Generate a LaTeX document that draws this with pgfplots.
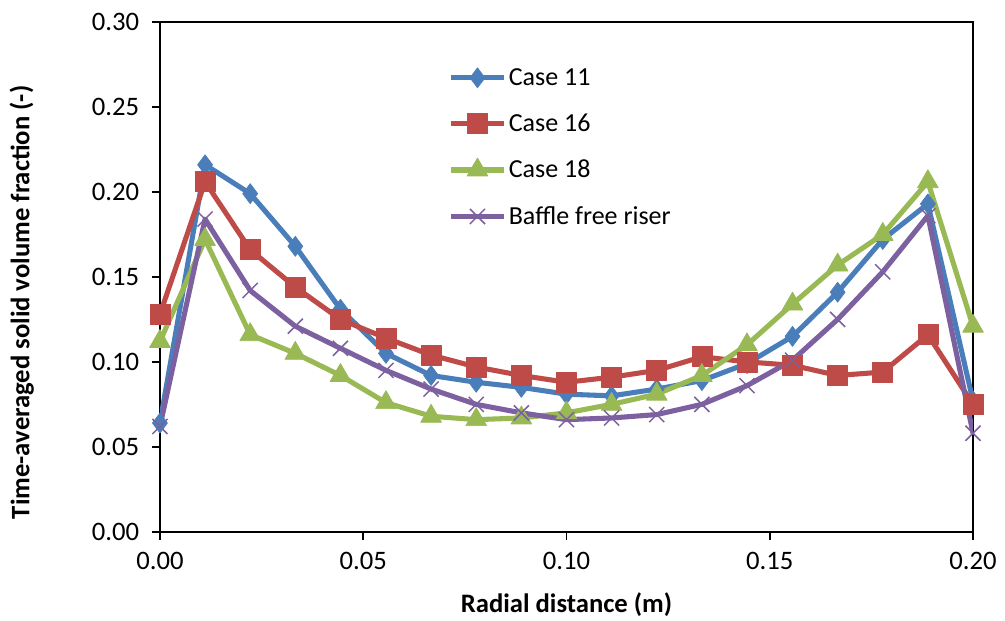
\documentclass[border=0pt]{standalone}
\usepackage{pgfplots}
\pgfplotsset{compat=1.18}
\usepackage{fontspec}
\setmainfont{Carlito}

\definecolor{cblue}{HTML}{4A7EBB}
\definecolor{cred}{HTML}{BE4B48}
\definecolor{cgreen}{HTML}{98B954}
\definecolor{cpurple}{HTML}{7D60A0}

% radial profiles of the time-averaged solid volume fraction
\pgfplotstableread{
r       c11    c16    c18    bfr
0.0000  0.064  0.128  0.112  0.062
0.0111  0.216  0.206  0.172  0.184
0.0222  0.199  0.166  0.116  0.142
0.0333  0.168  0.144  0.105  0.121
0.0444  0.131  0.125  0.092  0.108
0.0556  0.105  0.114  0.076  0.095
0.0667  0.092  0.104  0.068  0.084
0.0778  0.088  0.097  0.066  0.075
0.0889  0.085  0.092  0.067  0.070
0.1000  0.081  0.088  0.070  0.066
0.1111  0.080  0.091  0.075  0.067
0.1222  0.084  0.095  0.081  0.069
0.1333  0.089  0.103  0.092  0.075
0.1444  0.099  0.100  0.110  0.086
0.1556  0.115  0.098  0.134  0.101
0.1667  0.141  0.092  0.157  0.125
0.1778  0.172  0.094  0.175  0.153
0.1889  0.193  0.116  0.206  0.186
0.2000  0.077  0.075  0.121  0.058
}\profiles

\begin{document}
\begin{tikzpicture}
\begin{axis}[
  at={(0,0)}, anchor=south west,
  scale only axis,
  width=610pt, height=382.5pt,
  xmin=0, xmax=0.2, ymin=0, ymax=0.3,
  xtick={0,0.05,...,0.2001},
  ytick={0,0.05,...,0.3001},
  tick align=outside,
  major tick length=6pt,
  xtick pos=bottom, ytick pos=left,
  axis line style={line width=1.2pt},
  tick style={line width=1.2pt, black},
  /pgf/number format/assume math mode=true,
  /pgf/number format/.cd, fixed, fixed zerofill, precision=2, /pgfplots/.cd,
  ticklabel style={font=\fontsize{20}{24}\selectfont},
  xticklabel style={yshift=-6pt},
  yticklabel style={xshift=-6pt},
  xlabel={Radial distance (m)},
  ylabel={Time-averaged solid volume fraction (-)},
  label style={font=\fontsize{20}{24}\selectfont\bfseries},
  xlabel style={at={(axis description cs:0.5,-0.143)}, anchor=center},
  ylabel style={at={(axis description cs:-0.170,0.45)}, anchor=center, rotate=0},
  legend style={draw=none, fill=none, at={(0.35,0.92)}, anchor=north west,
    font=\fontsize{19.5}{23}\selectfont, row sep=16pt,
    /tikz/every even column/.append style={column sep=4pt}},
  legend cell align=left,
  legend image code/.code={
    \draw[#1, mark=none] (0cm,0cm) -- (1.38cm,0cm);
    \draw[#1, only marks] plot coordinates {(0.69cm,0cm)};
  },
  every axis plot/.append style={line width=3.8pt, line join=round},
]
\addplot[cblue, mark=diamond*, mark size=7.5pt, mark options={fill=cblue, line width=0.5pt}]
  table[x=r, y=c11] {\profiles};
\addlegendentry{Case 11}
\addplot[cred, mark=square*, mark size=7.5pt, mark options={fill=cred, line width=0.5pt}]
  table[x=r, y=c16] {\profiles};
\addlegendentry{Case 16}
\addplot[cgreen, mark=triangle*, mark size=9pt, mark options={fill=cgreen, line width=0.5pt}]
  table[x=r, y=c18] {\profiles};
\addlegendentry{Case 18}
\addplot[cpurple, mark=x, mark size=8pt, mark options={line width=1.1pt}]
  table[x=r, y=bfr] {\profiles};
\addlegendentry{Baffle free riser}
\end{axis}
\pgfresetboundingbox
\path[use as bounding box] (-120pt,-66.75pt) rectangle (634pt,399pt);
\end{tikzpicture}
\end{document}
